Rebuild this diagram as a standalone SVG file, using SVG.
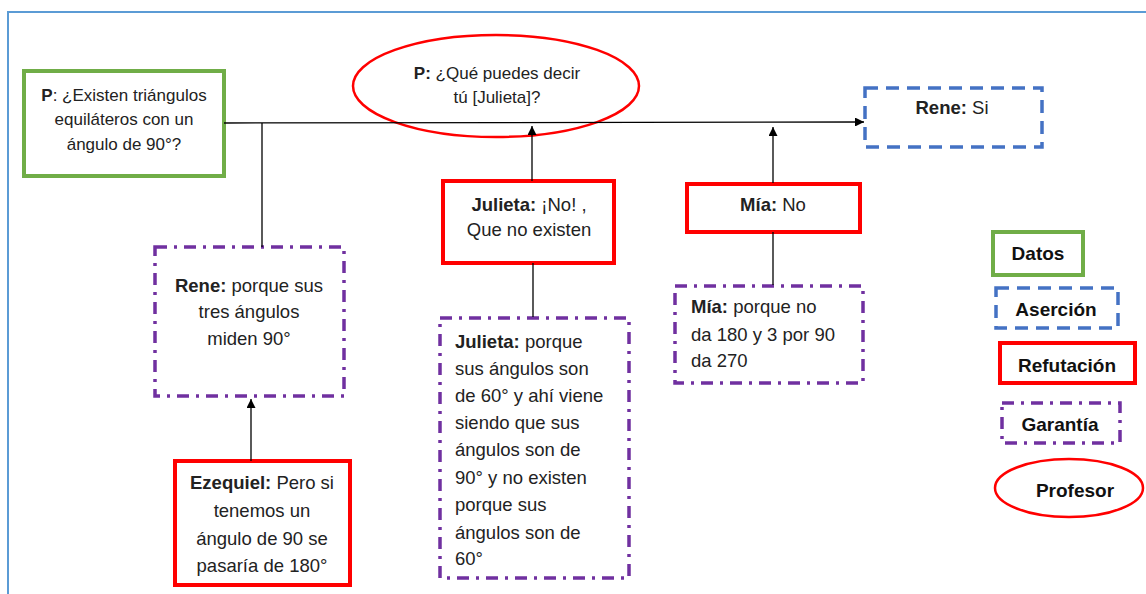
<svg xmlns="http://www.w3.org/2000/svg" width="1146" height="594" viewBox="0 0 1146 594">
<defs>
<style>
.t{font-family:"Liberation Sans",Arial,sans-serif;font-size:18.5px;fill:#222}
.s{font-size:17px}
.c{text-anchor:middle}
.b{font-weight:bold}
.lg{font-family:"Liberation Sans",Arial,sans-serif;font-size:19px;font-weight:bold;fill:#111;text-anchor:middle}
.datos{fill:#fff;stroke:#70AD47;stroke-width:4}
.aser{fill:#fff;stroke:#4472C4;stroke-width:3.5;stroke-dasharray:13 8}
.refu{fill:#fff;stroke:#FF0000;stroke-width:4}
.gar{fill:#fff;stroke:#7030A0;stroke-width:3.5;stroke-dasharray:12 7 3 7}
.prof{fill:#fff;stroke:#FF0000;stroke-width:2.5}
.ln{fill:none;stroke:#000;stroke-width:1.3}
</style>
<marker id="ah" viewBox="0 0 10 10" refX="10" refY="5" markerWidth="9" markerHeight="9" markerUnits="userSpaceOnUse" orient="auto">
<path d="M0,0 L10,5 L0,10 z" fill="#000"/>
</marker>
</defs>
<rect width="1146" height="594" fill="#fff"/>
<path d="M8,600 L8,12 L1150,12" fill="none" stroke="#5B9BD5" stroke-width="2"/>

<g id="datos-p">
<rect class="datos" x="24" y="71" width="200" height="105"/>
<text class="t s c" x="124" y="101"><tspan class="b">P</tspan>: ¿Existen triángulos</text>
<text class="t s c" x="124" y="125">equiláteros con un</text>
<text class="t s c" x="124" y="150">ángulo de 90°?</text>
</g>

<g id="profesor-p">
<ellipse class="prof" cx="496" cy="86" rx="143" ry="51"/>
<text class="t s c" x="497" y="79"><tspan class="b">P:</tspan> ¿Qué puedes decir</text>
<text class="t s c" x="497" y="103">tú [Julieta]?</text>
</g>

<g id="rene-si">
<rect class="aser" x="865" y="88" width="177" height="59"/>
<text class="t c" x="952" y="114"><tspan class="b">Rene:</tspan> Si</text>
</g>

<g id="rene-garantia">
<rect class="gar" x="155" y="247" width="189" height="149"/>
<text class="t c" x="249" y="292"><tspan class="b">Rene:</tspan> porque sus</text>
<text class="t c" x="249" y="318">tres ángulos</text>
<text class="t c" x="249" y="345">miden 90°</text>
</g>

<g id="ezequiel">
<rect class="refu" x="175" y="461" width="175" height="124"/>
<text class="t c" x="262" y="489"><tspan class="b">Ezequiel:</tspan> Pero si</text>
<text class="t c" x="262" y="517">tenemos un</text>
<text class="t c" x="262" y="545">ángulo de 90 se</text>
<text class="t c" x="262" y="572">pasaría de 180°</text>
</g>

<g id="julieta-no">
<rect class="refu" x="443" y="181" width="171" height="82"/>
<text class="t c" x="529" y="211"><tspan class="b">Julieta:</tspan> ¡No! ,</text>
<text class="t c" x="529" y="236">Que no existen</text>
</g>

<g id="julieta-garantia">
<rect class="gar" x="440" y="318" width="189" height="260"/>
<text class="t" x="455" y="348"><tspan class="b">Julieta:</tspan> porque</text>
<text class="t" x="455" y="375">sus ángulos son</text>
<text class="t" x="455" y="402">de 60° y ahí viene</text>
<text class="t" x="455" y="429">siendo que sus</text>
<text class="t" x="455" y="456">ángulos son de</text>
<text class="t" x="455" y="484">90° y no existen</text>
<text class="t" x="455" y="511">porque sus</text>
<text class="t" x="455" y="539">ángulos son de</text>
<text class="t" x="455" y="565">60°</text>
</g>

<g id="mia-no">
<rect class="refu" x="687" y="184" width="173" height="48"/>
<text class="t c" x="773" y="211"><tspan class="b">Mía:</tspan> No</text>
</g>

<g id="mia-garantia">
<rect class="gar" x="675" y="286" width="188" height="97"/>
<text class="t" x="691" y="313"><tspan class="b">Mía:</tspan> porque no</text>
<text class="t" x="691" y="341">da 180 y 3 por 90</text>
<text class="t" x="691" y="367">da 270</text>
</g>

<g id="legend-datos">
<rect class="datos" x="993" y="232" width="90" height="43"/>
<text class="lg" x="1038" y="260">Datos</text>
</g>
<g id="legend-asercion">
<rect class="aser" x="996" y="288" width="122" height="40"/>
<text class="lg" x="1056" y="316">Aserción</text>
</g>
<g id="legend-refutacion">
<rect class="refu" x="1000" y="343" width="135" height="40"/>
<text class="lg" x="1067" y="372">Refutación</text>
</g>
<g id="legend-garantia">
<rect class="gar" x="1002" y="403" width="118" height="40"/>
<text class="lg" x="1060" y="431">Garantía</text>
</g>
<g id="legend-profesor">
<ellipse class="prof" cx="1069" cy="488" rx="74" ry="29"/>
<text class="lg" x="1075" y="497">Profesor</text>
</g>

<g id="connectors">
<line class="ln" x1="224" y1="123" x2="864" y2="122" marker-end="url(#ah)"/>
<line class="ln" x1="262" y1="123" x2="262" y2="247"/>
<line class="ln" x1="532" y1="181" x2="532" y2="126" marker-end="url(#ah)"/>
<line class="ln" x1="533" y1="263" x2="533" y2="317"/>
<line class="ln" x1="773" y1="183" x2="773" y2="127" marker-end="url(#ah)"/>
<line class="ln" x1="773" y1="232" x2="773" y2="285"/>
<line class="ln" x1="251" y1="461" x2="251" y2="399" marker-end="url(#ah)"/>
</g>
</svg>
